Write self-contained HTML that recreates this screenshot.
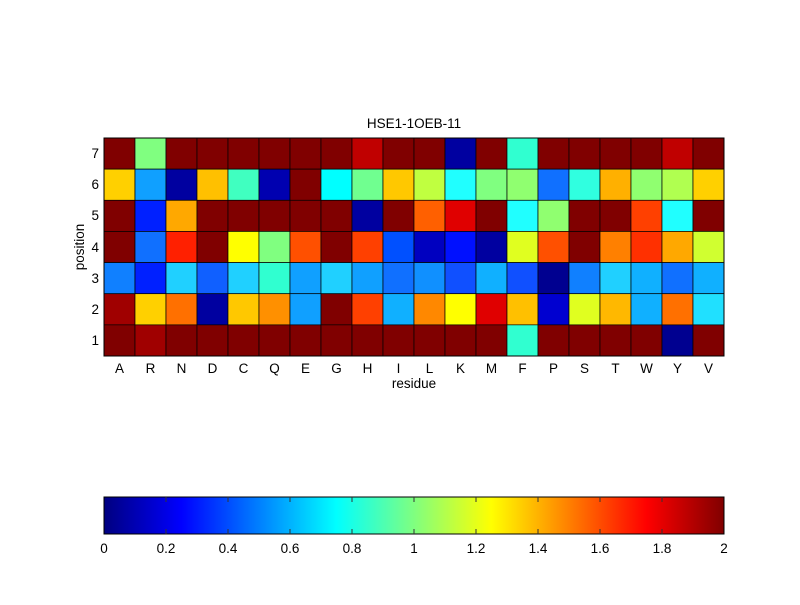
<!DOCTYPE html>
<html><head><meta charset="utf-8"><style>
body{margin:0;background:#fff;}
svg text{font-family:"Liberation Sans",sans-serif;font-size:13.5px;fill:#000;}
</style></head><body>
<svg id="s" width="800" height="600" xmlns="http://www.w3.org/2000/svg">
<defs><linearGradient id="jet" x1="0" x2="1" y1="0" y2="0">
<stop offset="0" stop-color="#000080"/><stop offset="0.125" stop-color="#0000ff"/>
<stop offset="0.375" stop-color="#00ffff"/><stop offset="0.625" stop-color="#ffff00"/>
<stop offset="0.875" stop-color="#ff0000"/><stop offset="1" stop-color="#800000"/></linearGradient></defs>
<rect x="0" y="0" width="800" height="600" fill="#fff"/>
<g id="cells"></g>
<rect x="104" y="138" width="620" height="218" fill="none" stroke="#000" stroke-width="1"/>
<text x="414" y="128" text-anchor="middle">HSE1-1OEB-11</text>
<text x="414" y="388" text-anchor="middle">residue</text>
<text transform="translate(84,247) rotate(-90)" text-anchor="middle">position</text>
<rect x="104" y="497" width="620" height="37" fill="url(#jet)" stroke="#000" stroke-width="1"/>
<g stroke="#333" stroke-width="1">
<path d="M166 497v5M228 497v5M290 497v5M352 497v5M414 497v5M476 497v5M538 497v5M600 497v5M662 497v5M166 534v-5M228 534v-5M290 534v-5M352 534v-5M414 534v-5M476 534v-5M538 534v-5M600 534v-5M662 534v-5"/>
</g>
<g text-anchor="middle">
<text x="104" y="553">0</text><text x="166" y="553">0.2</text><text x="228" y="553">0.4</text>
<text x="290" y="553">0.6</text><text x="352" y="553">0.8</text><text x="414" y="553">1</text>
<text x="476" y="553">1.2</text><text x="538" y="553">1.4</text><text x="600" y="553">1.6</text>
<text x="662" y="553">1.8</text><text x="724" y="553">2</text>
</g>
<g text-anchor="middle">
<text x="119.5" y="373">A</text><text x="150.5" y="373">R</text><text x="181.5" y="373">N</text><text x="212.5" y="373">D</text><text x="243.5" y="373">C</text><text x="274.5" y="373">Q</text><text x="305.5" y="373">E</text><text x="336.5" y="373">G</text><text x="367.5" y="373">H</text><text x="398.5" y="373">I</text><text x="429.5" y="373">L</text><text x="460.5" y="373">K</text><text x="491.5" y="373">M</text><text x="522.5" y="373">F</text><text x="553.5" y="373">P</text><text x="584.5" y="373">S</text><text x="615.5" y="373">T</text><text x="646.5" y="373">W</text><text x="677.5" y="373">Y</text><text x="708.5" y="373">V</text>
</g>
<g text-anchor="end">
<text x="99" y="158">7</text><text x="99" y="189">6</text><text x="99" y="220">5</text><text x="99" y="252">4</text><text x="99" y="283">3</text><text x="99" y="314">2</text><text x="99" y="345">1</text>
</g>
</svg>
<script>
var D="#800000";
var rows=[
[D,"#80ff80",D,D,D,D,D,D,"#c00000",D,D,"#0000a0",D,"#30ffd0",D,D,D,D,"#c00000",D],
["#ffd000","#10a0ff","#0000a0","#ffc000","#40ffc0","#0000b0",D,"#00ffff","#70ff90","#ffc800","#c0ff40","#20ffff","#80ff80","#90ff70","#1070ff","#30ffe0","#ffb000","#90ff70","#b0ff50","#ffd000"],
[D,"#0020ff","#ffa800",D,D,D,D,D,"#0000a0",D,"#ff6000","#e00000",D,"#20ffff","#90ff70",D,D,"#ff4000","#20ffff",D],
[D,"#1070ff","#ff2000",D,"#ffff00","#80ff80","#ff5000",D,"#ff4000","#0050ff","#0000c0","#0010ff","#0000a0","#e0ff20","#ff5000",D,"#ff8000","#ff3000","#ffa800","#d0ff30"],
["#1080ff","#0020ff","#20d0ff","#1060ff","#20d0ff","#30ffd0","#10a0ff","#20d0ff","#10a0ff","#1070ff","#1090ff","#1050ff","#10b0ff","#1050ff","#000090","#1080ff","#20d0ff","#10b0ff","#1070ff","#10b0ff"],
["#a00000","#ffd000","#ff7000","#0000a0","#ffc800","#ff9000","#10a0ff",D,"#ff4000","#10b0ff","#ff8800","#ffff00","#e00000","#ffc000","#0000d0","#e0ff20","#ffb800","#10b0ff","#ff7000","#20e0ff"],
[D,"#a00000",D,D,D,D,D,D,D,D,D,D,D,"#30ffd0",D,D,D,D,"#000090",D]];
var g=document.getElementById("cells"),h="";
for(var r=0;r<7;r++)for(var c=0;c<20;c++){
h+='<rect x="'+(104+c*31)+'" y="'+(138+r*218/7).toFixed(2)+'" width="31" height="'+(218/7).toFixed(2)+'" fill="'+rows[r][c]+'" stroke="#000" stroke-width="0.7"/>';}
g.innerHTML=h;
</script>
</body></html>
